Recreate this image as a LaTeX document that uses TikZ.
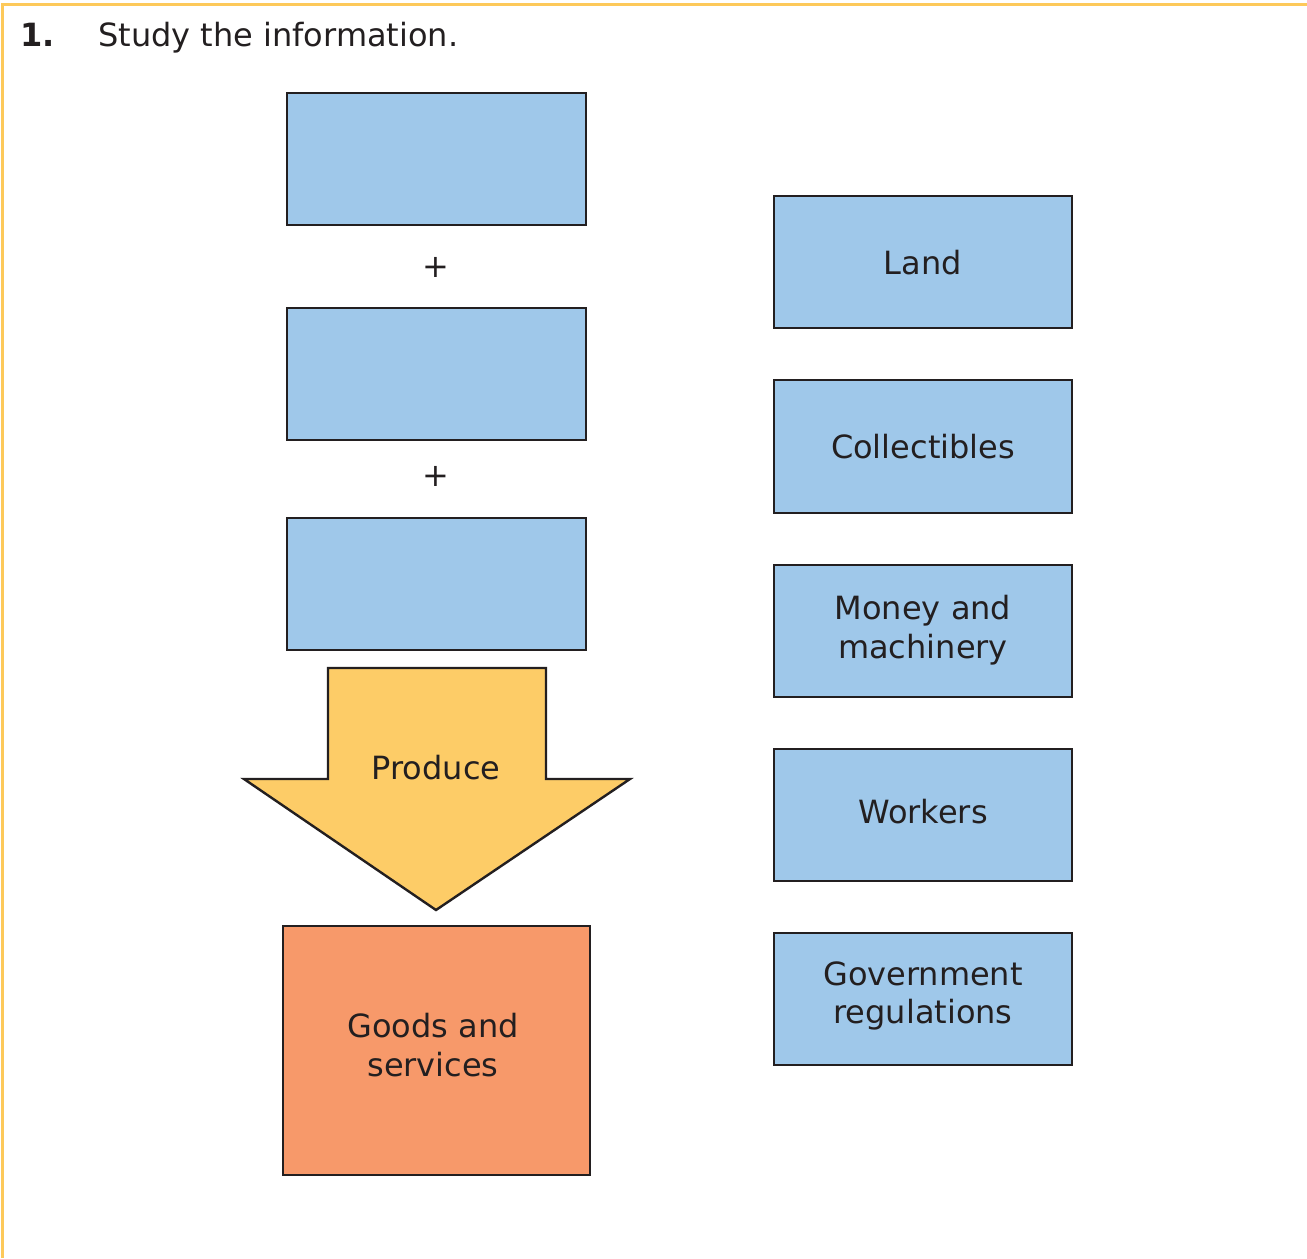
\documentclass[tikz,border=0pt]{standalone}
\usepackage{fontspec}
\setmainfont{DejaVu Sans}
\definecolor{boxblue}{HTML}{9FC8EA}
\definecolor{arrowyel}{HTML}{FDCC67}
\definecolor{goodsor}{HTML}{F7996A}
\definecolor{framey}{HTML}{FDC95A}
\definecolor{ink}{HTML}{231F20}
\begin{document}
\begin{tikzpicture}[x=0.75pt,y=-0.75pt,
  bluebox/.style={draw=ink,line width=1.8pt,fill=boxblue},
  lbl/.style={font=\fontsize{24}{29}\selectfont,text=ink,align=center,inner sep=0pt}]
\useasboundingbox (0,0) rectangle (1307,1258);
% frame
\draw[framey,line width=2.2pt] (2.5,1258) -- (2.5,4.5) -- (1307,4.5);
% title
\node[lbl,anchor=base west] (num) at (20,46) {\textbf{1.}};
\node[lbl,anchor=base west] (title) at (98,46) {Study the information.};
% left boxes
\path[bluebox] (287,93) rectangle (586,225);
\node (b1) at (436.5,159) {};
\node[lbl] (p1) at (436,267) {+};
\path[bluebox] (287,308) rectangle (586,440);
\node (b2) at (436.5,374) {};
\node[lbl] (p2) at (436,476) {+};
\path[bluebox] (287,518) rectangle (586,650);
\node (b3) at (436.5,584) {};
% arrow
\draw[draw=ink,line width=1.8pt,fill=arrowyel,line join=miter]
  (328,668) -- (546,668) -- (546,779) -- (630,779) -- (436,910) -- (244,779) -- (328,779) -- cycle;
\node[lbl] (produce) at (436,768) {Produce};
% goods
\draw[draw=ink,line width=1.8pt,fill=goodsor] (283,926) rectangle (590,1175);
\node[lbl] (goods) at (433,1045) {Goods and\\services};
% right boxes
\draw[bluebox] (774,196) rectangle (1072,328);
\node[lbl] (land) at (923,263) {Land};
\draw[bluebox] (774,380) rectangle (1072,513);
\node[lbl] (coll) at (923,447) {Collectibles};
\draw[bluebox] (774,565) rectangle (1072,697);
\node[lbl] (money) at (923,630) {Money and\\machinery};
\draw[bluebox] (774,749) rectangle (1072,881);
\node[lbl] (workers) at (923,812) {Workers};
\draw[bluebox] (774,933) rectangle (1072,1065);
\node[lbl] (gov) at (923,996) {Government\\regulations};
\end{tikzpicture}
\end{document}
